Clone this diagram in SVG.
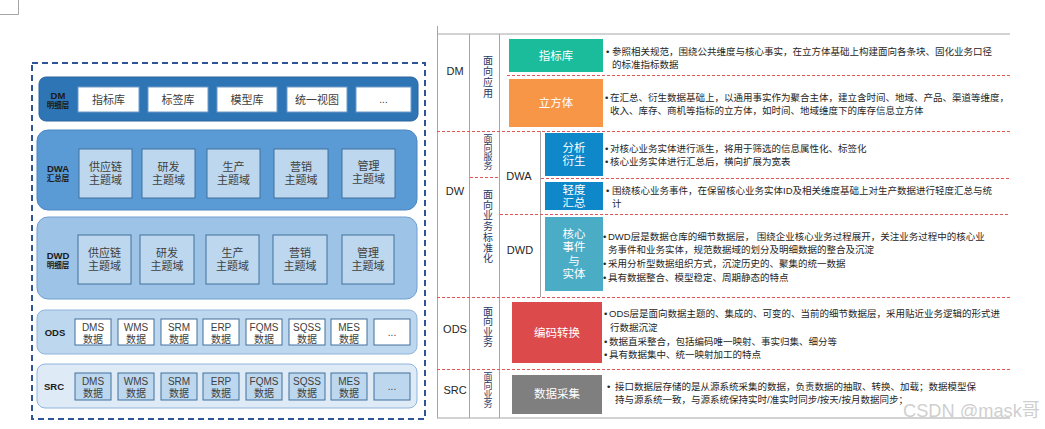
<svg xmlns="http://www.w3.org/2000/svg" width="1045" height="429" viewBox="0 0 1045 429">
<style>
text{font-family:"Liberation Sans","Noto Sans CJK SC",sans-serif}
.lbl{font-weight:bold;font-size:9.5px;fill:#1a1a1a;text-anchor:middle;dominant-baseline:central}
.sub{font-weight:bold;font-size:7.5px;fill:#1a1a1a;text-anchor:middle;dominant-baseline:central}
.bx{font-size:11px;fill:#404040;text-anchor:middle;dominant-baseline:central}
.sm{font-size:10px;fill:#404040;text-anchor:middle;dominant-baseline:central}
.wb{fill:#fff;stroke:#6f9bc8;stroke-width:1}
.lb{fill:#BDD7EE;stroke:#41719C;stroke-width:1}
.ob{fill:#fff;stroke:#41719C;stroke-width:1}
.grid{stroke:#A6A6A6;stroke-width:1;fill:none}
.red{stroke:#E05555;stroke-width:1;stroke-dasharray:3 2;fill:none}
.d{font-size:9.5px;fill:#262626}
.c1{font-size:11px;fill:#262626;text-anchor:middle;dominant-baseline:central}
.v{font-size:10px;fill:#1F3864;text-anchor:middle;dominant-baseline:central}
.v9{font-size:9px;fill:#1F3864;text-anchor:middle;dominant-baseline:central}
.wt{font-size:11.5px;fill:#fff;text-anchor:middle;dominant-baseline:central}
</style>
<path d="M0 14.5H18.5V0" fill="none" stroke="#A6A6A6" stroke-width="1"/>
<g id="frame"><rect x="32" y="63" width="393" height="356" fill="none" stroke="#2F5597" stroke-width="2" stroke-dasharray="6 4"/></g>

<g id="dm-layer">
<rect x="39" y="77" width="379" height="44" rx="7" fill="#2E75B6" stroke="#2a64a0"/>
<text class="lbl" x="58" y="95">DM</text><text class="sub" x="58" y="105">明细层</text>
<rect class="wb" x="78" y="87" width="61" height="25"/><text class="bx" x="108.5" y="99.5">指标库</text>
<rect class="wb" x="148" y="87" width="60" height="25"/><text class="bx" x="178" y="99.5">标签库</text>
<rect class="wb" x="217" y="87" width="60" height="25"/><text class="bx" x="247" y="99.5">模型库</text>
<rect class="wb" x="287" y="87" width="60" height="25"/><text class="bx" x="317" y="99.5">统一视图</text>
<rect class="wb" x="356" y="87" width="55" height="25"/><text class="sm" x="383.5" y="99.5">...</text>
</g>

<g id="dwa-layer">
<rect x="37" y="130" width="380" height="80" rx="11" fill="#5B9BD5" stroke="#4a86c2"/>
<text class="lbl" x="58" y="168">DWA</text><text class="sub" x="58" y="178">汇总层</text>
<rect class="lb" x="79" y="149" width="53" height="49"/><text class="bx" x="105.5" y="167">供应链</text><text class="bx" x="105.5" y="180">主题域</text>
<rect class="lb" x="142" y="149" width="53" height="49"/><text class="bx" x="168.5" y="167">研发</text><text class="bx" x="168.5" y="180">主题域</text>
<rect class="lb" x="207" y="149" width="53" height="49"/><text class="bx" x="233.5" y="167">生产</text><text class="bx" x="233.5" y="180">主题域</text>
<rect class="lb" x="274" y="149" width="54" height="49"/><text class="bx" x="301" y="167">营销</text><text class="bx" x="301" y="180">主题域</text>
<rect class="lb" x="342" y="149" width="53" height="49"/><text class="bx" x="368.5" y="166">管理</text><text class="bx" x="368.5" y="179">主题域</text>
</g>

<g id="dwd-layer">
<rect x="37" y="217" width="380" height="82" rx="11" fill="#9DC3E6" stroke="#6f9fd0"/>
<text class="lbl" x="58" y="255">DWD</text><text class="sub" x="58" y="265">明细层</text>
<rect class="lb" x="78" y="235" width="53" height="49"/><text class="bx" x="104.5" y="253">供应链</text><text class="bx" x="104.5" y="266">主题域</text>
<rect class="lb" x="140" y="235" width="54" height="49"/><text class="bx" x="167" y="253">研发</text><text class="bx" x="167" y="266">主题域</text>
<rect class="lb" x="206" y="235" width="53" height="49"/><text class="bx" x="232.5" y="253">生产</text><text class="bx" x="232.5" y="266">主题域</text>
<rect class="lb" x="273" y="235" width="54" height="49"/><text class="bx" x="300" y="253">营销</text><text class="bx" x="300" y="266">主题域</text>
<rect class="lb" x="342" y="235" width="52" height="49"/><text class="bx" x="368" y="253">管理</text><text class="bx" x="368" y="266">主题域</text>
</g>

<g id="ods-layer">
<rect x="37" y="310" width="380" height="44" rx="8" fill="#BDD7EE" stroke="#8fb4dc"/>
<text class="lbl" x="55" y="332">ODS</text>
<rect class="ob" x="75" y="319" width="36" height="26"/><text class="sm" x="93" y="327">DMS</text><text class="sm" x="93" y="339">数据</text>
<rect class="ob" x="118" y="319" width="36" height="26"/><text class="sm" x="136" y="327">WMS</text><text class="sm" x="136" y="339">数据</text>
<rect class="ob" x="161" y="319" width="36" height="26"/><text class="sm" x="179" y="327">SRM</text><text class="sm" x="179" y="339">数据</text>
<rect class="ob" x="203" y="319" width="36" height="26"/><text class="sm" x="221" y="327">ERP</text><text class="sm" x="221" y="339">数据</text>
<rect class="ob" x="246" y="319" width="36" height="26"/><text class="sm" x="264" y="327">FQMS</text><text class="sm" x="264" y="339">数据</text>
<rect class="ob" x="289" y="319" width="36" height="26"/><text class="sm" x="307" y="327">SQSS</text><text class="sm" x="307" y="339">数据</text>
<rect class="ob" x="331" y="319" width="36" height="26"/><text class="sm" x="349" y="327">MES</text><text class="sm" x="349" y="339">数据</text>
<rect class="ob" x="374" y="319" width="36" height="26"/><text class="sm" x="392" y="332">...</text>
</g>

<g id="src-layer">
<rect x="37" y="364" width="380" height="44" rx="8" fill="#DEEBF7" stroke="#8fb4dc"/>
<text class="lbl" x="54" y="386">SRC</text>
<rect class="lb" x="75" y="373" width="36" height="27"/><text class="sm" x="93" y="381">DMS</text><text class="sm" x="93" y="393">数据</text>
<rect class="lb" x="118" y="373" width="36" height="27"/><text class="sm" x="136" y="381">WMS</text><text class="sm" x="136" y="393">数据</text>
<rect class="lb" x="161" y="373" width="36" height="27"/><text class="sm" x="179" y="381">SRM</text><text class="sm" x="179" y="393">数据</text>
<rect class="lb" x="203" y="373" width="36" height="27"/><text class="sm" x="221" y="381">ERP</text><text class="sm" x="221" y="393">数据</text>
<rect class="lb" x="246" y="373" width="36" height="27"/><text class="sm" x="264" y="381">FQMS</text><text class="sm" x="264" y="393">数据</text>
<rect class="lb" x="289" y="373" width="36" height="27"/><text class="sm" x="307" y="381">SQSS</text><text class="sm" x="307" y="393">数据</text>
<rect class="lb" x="331" y="373" width="36" height="27"/><text class="sm" x="349" y="381">MES</text><text class="sm" x="349" y="393">数据</text>
<rect class="lb" x="374" y="373" width="36" height="27"/><text class="sm" x="392" y="386">...</text>
</g>

<g id="table-lines">
<line class="grid" x1="437" y1="34" x2="1010" y2="34" stroke="#BFBFBF" stroke-width="1.5"/>
<line class="grid" x1="437.5" y1="26" x2="437.5" y2="418"/>
<line class="grid" x1="469.5" y1="34" x2="469.5" y2="418"/>
<line class="grid" x1="499.5" y1="34" x2="499.5" y2="418"/>
<line class="grid" x1="540.5" y1="131" x2="540.5" y2="297"/>
<line class="grid" x1="437" y1="418" x2="1010" y2="418" stroke-width="1.5"/>
<line class="red" x1="507" y1="75.5" x2="1010" y2="75.5"/>
<line class="red" x1="437" y1="131.5" x2="1010" y2="131.5"/>
<line class="red" x1="470" y1="177.5" x2="498" y2="177.5"/>
<line class="red" x1="541" y1="178.5" x2="1010" y2="178.5"/>
<line class="red" x1="500" y1="214.5" x2="1010" y2="214.5"/>
<line class="red" x1="437" y1="297.5" x2="1010" y2="297.5"/>
<line class="red" x1="437" y1="369.5" x2="1010" y2="369.5"/>
</g>

<g id="row-labels">
<text class="c1" x="455" y="71">DM</text>
<text class="c1" x="455" y="191">DW</text>
<text class="c1" x="455" y="329">ODS</text>
<text class="c1" x="455" y="390">SRC</text>
<text class="c1" x="519" y="176">DWA</text>
<text class="c1" x="520" y="250">DWD</text>
</g>

<g id="row-scopes">
<text class="v" x="488" y="60">面</text><text class="v" x="488" y="71">向</text><text class="v" x="488" y="82">应</text><text class="v" x="488" y="93">用</text>
<text class="v9" x="488" y="139">面</text><text class="v9" x="488" y="148">向</text><text class="v9" x="488" y="157">服</text><text class="v9" x="488" y="166">务</text>
<text class="v" x="488" y="194">面</text><text class="v" x="488" y="205">向</text><text class="v" x="488" y="215">业</text><text class="v" x="488" y="226">务</text><text class="v" x="488" y="237">标</text><text class="v" x="488" y="248">准</text><text class="v" x="488" y="258">化</text>
<text class="v" x="488" y="311">面</text><text class="v" x="488" y="321">向</text><text class="v" x="488" y="332">业</text><text class="v" x="488" y="342">务</text>
<text class="v9" x="488" y="377">面</text><text class="v9" x="488" y="386">向</text><text class="v9" x="488" y="395">业</text><text class="v9" x="488" y="404">务</text>
</g>

<g id="zhibiaoku">
<rect x="509" y="39" width="94" height="33" fill="#1ABC9C"/>
<text class="wt" x="556" y="55.5">指标库</text>
<text class="d" x="606" y="54.5">•</text><text class="d" x="612" y="54.5">参照相关规范，围绕公共维度与核心事实，在立方体基础上构建面向各条块、固化业务口径</text>
<text class="d" x="612" y="67.5">的标准指标数据</text>
</g>

<g id="lifangti">
<rect x="509" y="79" width="94" height="48" fill="#F79646"/>
<text class="wt" x="556" y="103">立方体</text>
<text class="d" x="605" y="100.5">•</text><text class="d" x="610" y="100.5">在汇总、衍生数据基础上，以通用事实作为聚合主体，建立含时间、地域、产品、渠道等维度，</text>
<text class="d" x="610" y="113.5">收入、库存、商机等指标的立方体，如时间、地域维度下的库存信息立方体</text>
</g>

<g id="fenxi">
<rect x="545" y="133" width="58" height="43" fill="#0E88C8"/>
<text class="wt" x="574" y="148">分析</text><text class="wt" x="574" y="161">衍生</text>
<text class="d" x="605" y="151.5">•</text><text class="d" x="610" y="151.5">对核心业务实体进行派生，将用于筛选的信息属性化、标签化</text>
<text class="d" x="605" y="164.5">•</text><text class="d" x="610" y="164.5">核心业务实体进行汇总后，横向扩展为宽表</text>
</g>

<g id="qingdu">
<rect x="545" y="182" width="58" height="28" fill="#0E88C8"/>
<text class="wt" x="574" y="189.5">轻度</text><text class="wt" x="574" y="202.5">汇总</text>
<text class="d" x="606" y="193.5">•</text><text class="d" x="612" y="193.5">围绕核心业务事件，在保留核心业务实体ID及相关维度基础上对生产数据进行轻度汇总与统</text>
<text class="d" x="612" y="206.5">计</text>
</g>

<g id="hexin">
<rect x="545" y="217" width="58" height="74" fill="#4BACC6"/>
<text class="wt" x="574" y="234">核心</text><text class="wt" x="574" y="247">事件</text><text class="wt" x="574" y="261">与</text><text class="wt" x="574" y="274">实体</text>
<text class="d" x="603" y="239.5">•</text><text class="d" x="608" y="239.5">DWD层是数据仓库的细节数据层， 围绕企业核心业务过程展开，关注业务过程中的核心业</text>
<text class="d" x="608" y="252.5">务事件和业务实体，规范数据域的划分及明细数据的整合及沉淀</text>
<text class="d" x="603" y="266.5">•</text><text class="d" x="608" y="266.5">采用分析型数据组织方式，沉淀历史的、聚集的统一数据</text>
<text class="d" x="603" y="280.5">•</text><text class="d" x="608" y="280.5">具有数据整合、模型稳定、周期静态的特点</text>
</g>

<g id="bianma">
<rect x="512" y="302" width="90" height="61" fill="#DC4A4C"/>
<text class="wt" x="557" y="333">编码转换</text>
<text class="d" x="604" y="316.5">•</text><text class="d" x="609" y="316.5">ODS层是面向数据主题的、集成的、可变的、当前的细节数据层，采用贴近业务逻辑的形式进</text>
<text class="d" x="610" y="330.5">行数据沉淀</text>
<text class="d" x="604" y="344.5">•</text><text class="d" x="609" y="344.5">数据直采整合，包括编码唯一映射、事实归集、细分等</text>
<text class="d" x="604" y="357.5">•</text><text class="d" x="609" y="357.5">具有数据集中、统一映射加工的特点</text>
</g>

<g id="caiji">
<rect x="512" y="375" width="90" height="39" fill="#7F7F7F"/>
<text class="wt" x="557" y="394">数据采集</text>
<text class="d" x="607" y="389.5">•</text><text class="d" x="615" y="389.5">接口数据层存储的是从源系统采集的数据，负责数据的抽取、转换、加载；数据模型保</text>
<text class="d" x="615" y="402.5">持与源系统一致，与源系统保持实时/准实时同步/按天/按月数据同步；</text>
</g>

<text x="903" y="417" font-size="19" textLength="137" lengthAdjust="spacingAndGlyphs" fill="#CFCFCF">CSDN @mask哥</text>
</svg>
